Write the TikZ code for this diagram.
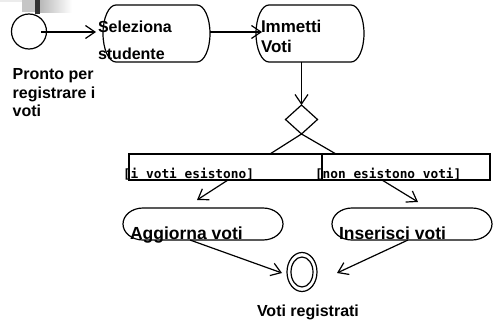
\documentclass[tikz,border=0pt]{standalone}
\usepackage{fontspec}
\setmainfont{Liberation Sans}
\newfontfamily\guardfont{DejaVu Sans Mono}
\usetikzlibrary{arrows.meta,shapes.geometric}

% outline of an activity state: straight top and bottom, half-ellipse ends
\newcommand\stadiumoutline[3]{%
  \draw ([xshift=#2]#1.north west) -- ([xshift=-#2]#1.north east)
    arc[start angle=90,end angle=-90,x radius=#2,y radius=#3]
    -- ([xshift=#2]#1.south west)
    arc[start angle=270,end angle=90,x radius=#2,y radius=#3] -- cycle;}

\tikzset{
  flow/.style={-{Straight Barb[length=9.5pt,width=13pt]}},
  frame/.style={rectangle,inner sep=0pt,outer sep=0pt},
  lbl/.style={inner sep=0pt,outer sep=0pt,anchor=base west,
    font=\bfseries\fontsize{#1}{#1}\selectfont},
  lbl/.default=16,
  guard/.style={inner sep=0pt,outer sep=0pt,anchor=base west,
    font=\guardfont\bfseries\fontsize{12.8}{14}\selectfont},
}

\begin{document}
\begin{tikzpicture}[x=1pt,y=1pt,line width=1.2pt]
\useasboundingbox (0,0) rectangle (493,-324);

% corner ornament
\fill[gray!15] (0,0) rectangle (33,-2);
\fill[gray!45] (22,0) rectangle (35,-12);
\fill[black!80] (35,0) rectangle (40,-14);
\shade[left color=gray!55,right color=white] (40,0) rectangle (72,-12);

% initial state
\node[circle,draw,minimum size=35pt,inner sep=0pt,outer sep=0pt] (init) at (29,-31.5) {};
\node[lbl] (pronto1) at (12.7,-79) {Pronto per};
\node[lbl] (pronto2) at (12.7,-98) {registrare i};
\node[lbl] (pronto3) at (12.7,-116) {voti};

% Seleziona studente
\node[frame,minimum width=107pt,minimum height=57pt] (sel) at (156.5,-33.5) {};
\stadiumoutline{sel}{13pt}{28.5pt}
\node[lbl] (seltxt1) at (98,-32) {Seleziona};
\node[lbl] (seltxt2) at (98,-59) {studente};

% Immetti Voti
\node[frame,minimum width=108pt,minimum height=57pt] (imm) at (310,-33.5) {};
\stadiumoutline{imm}{13pt}{28.5pt}
\node[lbl=17] (immtxt1) at (261,-32) {Immetti};
\node[lbl=17] (immtxt2) at (261,-52) {Voti};

% decision
\node[diamond,draw,minimum width=32pt,minimum height=29pt,inner sep=0pt,outer sep=0pt] (dec) at (301.5,-119.5) {};

% guard bars
\node[frame,draw,minimum width=193pt,minimum height=26pt] (barL) at (225.5,-167) {};
\node[frame,draw,minimum width=168pt,minimum height=26pt] (barR) at (406,-167) {};
\node[guard] (gL) at (123,-178) {[i voti esistono]};
\node[guard] (gR) at (315,-178) {[non esistono voti]};

% Aggiorna voti / Inserisci voti
\node[frame,minimum width=160pt,minimum height=32pt] (agg) at (203,-224) {};
\stadiumoutline{agg}{20pt}{16pt}
\node[lbl=17.5] (aggtxt) at (130,-239) {Aggiorna voti};
\node[frame,minimum width=160pt,minimum height=32pt] (ins) at (412,-224) {};
\stadiumoutline{ins}{20pt}{16pt}
\node[lbl=17.5] (instxt) at (339,-239) {Inserisci voti};

% final state
\node[ellipse,draw,minimum width=30pt,minimum height=39pt,inner sep=0pt,outer sep=0pt] (fin) at (302,-272) {};
\draw (fin.center) ellipse[x radius=11pt,y radius=15pt];
\node[lbl] (fintxt) at (257,-316) {Voti registrati};

% transitions
\draw[flow] ([shift={(12pt,-0.5pt)}]init.center) -- ([shift={(-7pt,1.5pt)}]sel.west);
\draw[flow] ([yshift=1.5pt]sel.east) -- ([shift={(6pt,1.5pt)}]imm.west);
\draw[flow] ([xshift=-8.5pt]imm.south) -- (dec.north);
\draw (dec.south) -- ([xshift=-52pt]barL.north east);
\draw (dec.south) -- ([xshift=14pt]barR.north west);
\draw[flow] ([xshift=2.5pt]barL.south) -- ([shift={(-6pt,8pt)}]agg.north);
\draw[flow] ([xshift=-24pt]barR.south) -- ([shift={(6pt,6pt)}]ins.north);
\draw[flow] ([xshift=-13pt]agg.south) -- ([shift={(-5pt,-1pt)}]fin.west);
\draw[flow] ([xshift=-4pt]ins.south) -- ([shift={(20pt,-1pt)}]fin.east);
\end{tikzpicture}
\end{document}
